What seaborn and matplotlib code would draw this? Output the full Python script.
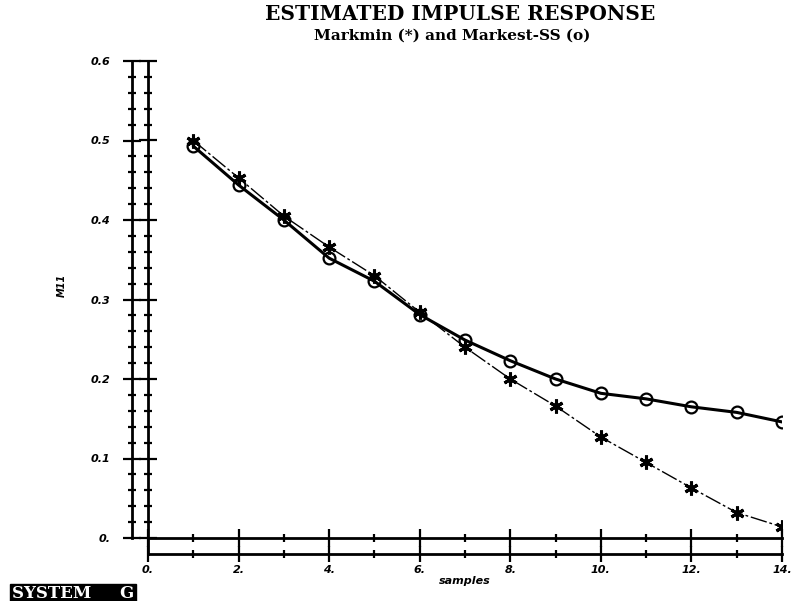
import numpy as np
import pandas as pd
import matplotlib
matplotlib.use("Agg")
import matplotlib.pyplot as plt
import seaborn as sns
from matplotlib.ticker import MultipleLocator

# ---- data ----
samples = [1, 2, 3, 4, 5, 6, 7, 8, 9, 10, 11, 12, 13, 14]
markmin = [0.500, 0.453, 0.405, 0.366, 0.330, 0.284, 0.240, 0.200, 0.166,
           0.127, 0.095, 0.063, 0.032, 0.014]
markest = [0.493, 0.444, 0.400, 0.352, 0.323, 0.281, 0.249, 0.223, 0.200,
           0.182, 0.175, 0.165, 0.158, 0.146]
x_ticks = [0, 2, 4, 6, 8, 10, 12, 14]
x_labels = ["0.", "2.", "4.", "6.", "8.", "10.", "12.", "14."]
y_ticks = [0.0, 0.1, 0.2, 0.3, 0.4, 0.5, 0.6]
y_labels = ["0.", "0.1", "0.2", "0.3", "0.4", "0.5", "0.6"]

df = pd.DataFrame({"samples": samples, "Markmin": markmin, "Markest": markest})

sns.set_style("ticks", {"axes.edgecolor": "black", "xtick.color": "black",
                        "ytick.color": "black", "text.color": "black"})

W, H = 791, 601
fig = plt.figure(figsize=(W / 100, H / 100), dpi=100)
x0, x1, y0, y1 = 148, 782, 538, 61
ax = fig.add_axes([x0 / W, 1 - y0 / H, (x1 - x0) / W, (y0 - y1) / H])

sns.lineplot(data=df, x="samples", y="Markest", ax=ax, color="black",
             linewidth=2.2, marker="o", markersize=8.5, markerfacecolor="none",
             markeredgecolor="black", markeredgewidth=1.6)
sns.lineplot(data=df, x="samples", y="Markmin", ax=ax, color="black",
             linewidth=1.0, linestyle=(0, (12, 2, 2, 2)), marker=(6, 2, 0),
             markersize=10, markeredgecolor="black", markeredgewidth=2.2)

ax.set_xlim(0, 14)
ax.set_ylim(0, 0.6)
ax.set_xlabel("")
ax.set_ylabel("")
for s in ["top", "right"]:
    ax.spines[s].set_visible(False)
for s in ["left", "bottom"]:
    ax.spines[s].set_linewidth(2)
ax.spines["left"].set_bounds(-16 / 796, 0.6)

ax.xaxis.set_major_locator(MultipleLocator(2))
ax.xaxis.set_minor_locator(MultipleLocator(1))
ax.yaxis.set_major_locator(MultipleLocator(0.1))
ax.yaxis.set_minor_locator(MultipleLocator(0.02))
ax.tick_params(which="major", direction="inout", length=13, width=1.6,
               labelbottom=False, labelleft=False, bottom=True, left=True)
ax.tick_params(which="minor", direction="inout", length=6, width=1.6,
               bottom=True, left=True)

tick_font = dict(fontsize=8, fontstyle="italic", fontweight="bold")

sy = ax.secondary_yaxis(-16 / (x1 - x0))
sy.spines["left"].set_linewidth(2)
sy.set_yticks(y_ticks, labels=y_labels, **tick_font)
sy.yaxis.set_minor_locator(MultipleLocator(0.02))
sy.tick_params(which="major", direction="inout", length=13, width=1.6, pad=9)
sy.tick_params(which="minor", direction="inout", length=6, width=1.6)

sx = ax.secondary_xaxis(-16 / (y0 - y1))
sx.spines["bottom"].set_linewidth(2)
sx.set_xticks(x_ticks, labels=x_labels, **tick_font)
sx.xaxis.set_minor_locator(MultipleLocator(1))
sx.tick_params(which="major", direction="inout", length=12, width=1.6, pad=2)
sx.tick_params(which="minor", direction="inout", length=6, width=1.6)

fig.text(62 / W, 1 - 285 / H, "M11", rotation=90, ha="center", va="center",
         fontsize=7, fontstyle="italic", fontweight="bold")
fig.text(465 / W, 1 - 581 / H, "samples", ha="center", va="center",
         fontsize=8, fontstyle="italic", fontweight="bold")
fig.text(460 / W, 1 - 14 / H, "ESTIMATED IMPULSE RESPONSE", ha="center",
         va="center", fontsize=14.5, fontweight="bold", family="DejaVu Serif")
fig.text(452 / W, 1 - 35.5 / H, "Markmin (*) and Markest-SS (o)", ha="center",
         va="center", fontsize=11, fontweight="bold", family="DejaVu Serif")
fig.text(12 / W, 1 - 594 / H, "SYSTEM     G", ha="left", va="center",
         fontsize=12, fontweight="bold", family="DejaVu Serif", color="white",
         bbox=dict(boxstyle="square,pad=0.1", facecolor="black",
                   edgecolor="black"))

fig.savefig("out.png", dpi=100)
